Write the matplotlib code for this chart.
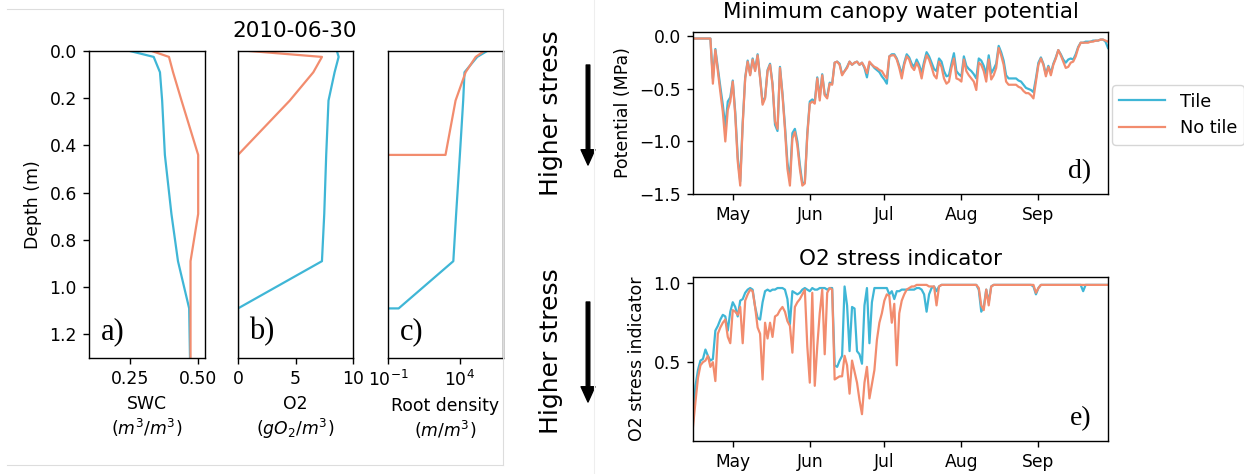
import numpy as np
import pandas as pd
import matplotlib
matplotlib.use("Agg")
import matplotlib.pyplot as plt
import matplotlib.dates as mdates
from matplotlib.lines import Line2D

TILE = "#3fb6d6"
NOTILE = "#f28c6e"

# ---- soil profiles on 2010-06-30 ----
depth = [0.0, 0.025, 0.09, 0.21, 0.44, 0.69, 0.89, 1.09, 1.3]
swc_tile = [0.25, 0.337, 0.36, 0.368, 0.378, 0.402, 0.426, 0.467, 0.47]
swc_notile = [0.33, 0.393, 0.408, 0.439, 0.50, 0.50, 0.472, 0.472, 0.472]
o2_tile = [8.6, 8.75, 8.4, 7.87, 7.67, 7.5, 7.3, 0.0, 0.0]
o2_notile = [1.0, 7.3, 6.55, 4.5, 0.0, 0.0, 0.0, 0.0, 0.0]

root_depth_tile = [0.0, 0.025, 0.09, 0.21, 0.44, 0.69, 0.89, 1.09, 1.09]
root_tile = [7.9e5, 1.6e5, 2.1e4, 1.7e4, 1.0e4, 5.5e3, 3.5e3, 0.55, 1e-3]
root_depth_notile = [0.0, 0.025, 0.09, 0.21, 0.44, 0.44]
root_notile = [4.9e5, 1.26e5, 2.5e4, 5.0e3, 1.0e3, 1e-3]

# ---- daily series, 2010-04-15 .. 2010-09-29 ----
dates = pd.date_range("2010-04-15", "2010-09-29", freq="D")

wp_tile = [
    -0.02, -0.02, -0.02, -0.02, -0.02, -0.02, -0.02, -0.02, -0.40, -0.12,
    -0.30, -0.48, -0.65, -0.86, -0.62, -0.58, -0.42, -0.72, -1.15, -1.38,
    -0.82, -0.39, -0.23, -0.36, -0.21, -0.32, -0.17, -0.39, -0.63, -0.58,
    -0.32, -0.26, -0.45, -0.84, -0.90, -0.29, -0.54, -0.85, -1.20, -1.36,
    -0.92, -0.88, -1.00, -1.22, -1.40, -1.39, -0.92, -0.62, -0.60, -0.62,
    -0.39, -0.58, -0.36, -0.55, -0.57, -0.44, -0.45, -0.25, -0.24, -0.26,
    -0.36, -0.33, -0.29, -0.24, -0.27, -0.25, -0.24, -0.27, -0.25, -0.30,
    -0.39, -0.25, -0.27, -0.30, -0.32, -0.34, -0.38, -0.41, -0.45, -0.19,
    -0.17, -0.17, -0.21, -0.28, -0.36, -0.25, -0.17, -0.20, -0.26, -0.29,
    -0.22, -0.27, -0.35, -0.24, -0.15, -0.19, -0.25, -0.31, -0.33, -0.21,
    -0.24, -0.33, -0.38, -0.37, -0.26, -0.16, -0.33, -0.36, -0.38, -0.19,
    -0.28, -0.31, -0.33, -0.36, -0.40, -0.21, -0.23, -0.28, -0.36, -0.18,
    -0.35, -0.31, -0.26, -0.09, -0.15, -0.23, -0.37, -0.40, -0.40, -0.40,
    -0.40, -0.42, -0.43, -0.46, -0.49, -0.50, -0.51, -0.53, -0.40, -0.25,
    -0.20, -0.26, -0.36, -0.28, -0.35, -0.26, -0.20, -0.13, -0.17, -0.22,
    -0.25, -0.22, -0.21, -0.22, -0.17, -0.10, -0.06, -0.06, -0.05, -0.05,
    -0.05, -0.04, -0.04, -0.04, -0.03, -0.03, -0.05, -0.11,
]
wp_notile = [
    -0.02, -0.02, -0.02, -0.02, -0.02, -0.02, -0.02, -0.02, -0.45, -0.13,
    -0.33, -0.53, -0.72, -1.00, -0.70, -0.62, -0.43, -0.75, -1.19, -1.42,
    -0.84, -0.40, -0.24, -0.37, -0.22, -0.33, -0.18, -0.40, -0.65, -0.59,
    -0.33, -0.27, -0.46, -0.81, -0.88, -0.30, -0.56, -0.88, -1.26, -1.42,
    -0.97, -0.91, -1.04, -1.26, -1.42, -1.40, -0.94, -0.64, -0.62, -0.64,
    -0.40, -0.61, -0.37, -0.56, -0.59, -0.45, -0.46, -0.25, -0.24, -0.27,
    -0.37, -0.33, -0.30, -0.24, -0.27, -0.25, -0.24, -0.27, -0.25, -0.29,
    -0.35, -0.24, -0.27, -0.29, -0.30, -0.32, -0.33, -0.37, -0.40, -0.19,
    -0.18, -0.18, -0.22, -0.30, -0.40, -0.27, -0.19, -0.22, -0.29, -0.32,
    -0.25, -0.30, -0.40, -0.27, -0.18, -0.22, -0.29, -0.37, -0.40, -0.24,
    -0.29, -0.40, -0.45, -0.43, -0.30, -0.21, -0.40, -0.41, -0.43, -0.22,
    -0.33, -0.37, -0.40, -0.43, -0.51, -0.25, -0.27, -0.33, -0.43, -0.22,
    -0.41, -0.37, -0.30, -0.11, -0.18, -0.27, -0.43, -0.46, -0.46, -0.46,
    -0.46, -0.48, -0.49, -0.52, -0.54, -0.54, -0.56, -0.59, -0.43, -0.27,
    -0.21, -0.27, -0.38, -0.29, -0.37, -0.27, -0.21, -0.13, -0.18, -0.24,
    -0.30, -0.29, -0.25, -0.24, -0.19, -0.11, -0.06, -0.06, -0.06, -0.06,
    -0.05, -0.05, -0.04, -0.04, -0.03, -0.03, -0.04, -0.05,
]

o2s_tile = [
    0.13, 0.35, 0.45, 0.51, 0.52, 0.58, 0.54, 0.51, 0.52, 0.70,
    0.73, 0.77, 0.80, 0.79, 0.70, 0.82, 0.88, 0.85, 0.79, 0.89,
    0.90, 0.94, 0.96, 0.97, 0.96, 0.85, 0.78, 0.77, 0.88, 0.95,
    0.96, 0.95, 0.96, 0.96, 0.97, 0.97, 0.97, 0.96, 0.90, 0.74,
    0.95, 0.94, 0.93, 0.94, 0.96, 0.97, 0.96, 0.95, 0.97, 0.96,
    0.96, 0.97, 0.97, 0.97, 0.96, 0.97, 0.97, 0.48, 0.47, 0.51,
    0.54, 0.98, 0.86, 0.57, 0.85, 0.84, 0.57, 0.55, 0.49, 0.86,
    0.97, 0.62, 0.88, 0.97, 0.97, 0.97, 0.97, 0.97, 0.97, 0.93,
    0.95, 0.90, 0.95, 0.95, 0.96, 0.96, 0.96, 0.96, 0.96, 0.96,
    0.97, 0.97, 0.96, 0.93, 0.82, 0.93, 0.97, 0.98, 0.95, 0.98,
    0.99, 0.99, 0.99, 0.99, 0.99, 0.99, 0.99, 0.99, 0.99, 0.99,
    0.99, 0.99, 0.99, 0.99, 0.99, 0.96, 0.82, 0.85, 0.96, 0.88,
    0.98, 0.99, 0.99, 0.99, 0.99, 0.99, 0.99, 0.99, 0.99, 0.99,
    0.99, 0.99, 0.99, 0.99, 0.99, 0.99, 0.99, 0.98, 0.93, 0.97,
    0.99, 0.99, 0.99, 0.99, 0.99, 0.99, 0.99, 0.99, 0.99, 0.99,
    0.99, 0.99, 0.99, 0.99, 0.99, 0.99, 0.99, 0.95, 0.99, 0.99,
    0.99, 0.99, 0.99, 0.99, 0.99, 0.99, 0.99, 0.99,
]
o2s_notile = [
    0.09, 0.25, 0.40, 0.48, 0.50, 0.51, 0.54, 0.47, 0.50, 0.38,
    0.68, 0.72, 0.75, 0.77, 0.66, 0.62, 0.83, 0.82, 0.80, 0.85,
    0.62, 0.89, 0.93, 0.96, 0.95, 0.85, 0.72, 0.68, 0.39, 0.75,
    0.65, 0.75, 0.66, 0.79, 0.80, 0.83, 0.85, 0.82, 0.76, 0.73,
    0.56, 0.85, 0.88, 0.90, 0.93, 0.96, 0.60, 0.37, 0.94, 0.35,
    0.60, 0.81, 0.96, 0.55, 0.94, 0.97, 0.96, 0.39, 0.40, 0.41,
    0.41, 0.54, 0.48, 0.30, 0.51, 0.44, 0.37, 0.26, 0.17, 0.37,
    0.47, 0.27, 0.36, 0.45, 0.64, 0.75, 0.81, 0.89, 0.93, 0.92,
    0.75, 0.87, 0.48, 0.81, 0.89, 0.93, 0.96, 0.97, 0.98, 0.98,
    0.99, 0.99, 0.99, 0.99, 0.99, 0.98, 0.98, 0.98, 0.86, 0.98,
    0.99, 0.99, 0.99, 0.99, 0.99, 0.99, 0.99, 0.99, 0.99, 0.99,
    0.99, 0.99, 0.99, 0.99, 0.99, 0.97, 0.86, 0.83, 0.96, 0.86,
    0.98, 0.99, 0.99, 0.99, 0.99, 0.99, 0.99, 0.99, 0.99, 0.99,
    0.99, 0.99, 0.99, 0.99, 0.99, 0.99, 0.99, 0.99, 0.94, 0.97,
    0.99, 0.99, 0.99, 0.99, 0.99, 0.99, 0.99, 0.99, 0.99, 0.99,
    0.99, 0.99, 0.99, 0.99, 0.99, 0.99, 0.99, 0.99, 0.99, 0.99,
    0.99, 0.99, 0.99, 0.99, 0.99, 0.99, 0.99, 0.99,
]

# everything a bit larger than the matplotlib defaults
plt.rcParams.update({
    "xtick.major.size": 4.4, "ytick.major.size": 4.4,
    "xtick.major.pad": 4.4, "ytick.major.pad": 4.4,
    "xtick.major.width": 1.0, "ytick.major.width": 1.0,
    "axes.linewidth": 1.0, "axes.labelpad": 5.0,
})

W, H = 1244, 474
fig = plt.figure(figsize=(W / 100, H / 100), dpi=100)


def box(x0, y0, x1, y1):
    # pixel box (top-left origin) -> figure fraction rect
    return [x0 / W, 1 - y1 / H, (x1 - x0) / W, (y1 - y0) / H]


LW = 1.6
FS = 12.4
serif = "Liberation Serif"

# ---------- left block: profiles ----------
ax_a = fig.add_axes(box(89, 51, 205, 358))
ax_b = fig.add_axes(box(238, 51, 353, 358))
ax_c = fig.add_axes(box(388, 51, 503, 358))

ax_a.plot(swc_tile, depth, color=TILE, lw=LW)
ax_a.plot(swc_notile, depth, color=NOTILE, lw=LW)
ax_a.set_xlim(0.1, 0.525)
ax_a.set_xticks([0.25, 0.50])
ax_a.set_ylabel("Depth (m)", fontsize=FS)
ax_a.set_xlabel("SWC\n($m^3/m^3$)", fontsize=FS)

ax_b.plot(o2_tile, depth, color=TILE, lw=LW)
ax_b.plot(o2_notile, depth, color=NOTILE, lw=LW)
ax_b.set_xlim(0, 10)
ax_b.set_xticks([0, 5, 10])
ax_b.set_xlabel("O2\n($gO_2/m^3$)", fontsize=FS)

ax_c.plot(root_tile, root_depth_tile, color=TILE, lw=LW)
ax_c.plot(root_notile, root_depth_notile, color=NOTILE, lw=LW)
ax_c.set_xscale("log")
ax_c.set_xlim(0.1, 1e7)
ax_c.set_xticks([1e-1, 1e4])
ax_c.minorticks_off()
ax_c.set_xlabel("Root density\n($m/m^3$)", fontsize=FS)

for ax, lab in zip([ax_a, ax_b, ax_c], ["a)", "b)", "c)"]):
    ax.set_ylim(1.3, 0)
    ax.set_yticks([0.0, 0.2, 0.4, 0.6, 0.8, 1.0, 1.2])
    ax.tick_params(labelsize=FS)
    ax.text(0.1, 0.04, lab, transform=ax.transAxes, fontsize=22,
            family=serif, ha="left", va="bottom")
for ax in [ax_b, ax_c]:
    ax.tick_params(axis="y", left=False, labelleft=False)

fig.text(295 / W, 1 - 31 / H, "2010-06-30", fontsize=15.5, ha="center", va="center")

# thin frame around the profile block
frame = "#dddddd"
fig.add_artist(Line2D([7 / W, 503 / W], [1 - 9 / H, 1 - 9 / H], color=frame, lw=0.8))
fig.add_artist(Line2D([7 / W, 503 / W], [1 - 465 / H, 1 - 465 / H], color=frame, lw=0.8))
fig.add_artist(Line2D([503 / W, 503 / W], [1 - 9 / H, 1 - 465 / H], color=frame, lw=0.8))
fig.add_artist(Line2D([594 / W, 594 / W], [0, 1], color="#eeeeee", lw=0.8))

# ---------- right block: time series ----------
ax_d = fig.add_axes(box(693, 32, 1108, 194))
ax_e = fig.add_axes(box(693, 277, 1108, 441))

ax_d.plot(dates, wp_tile, color=TILE, lw=LW, label="Tile")
ax_d.plot(dates, wp_notile, color=NOTILE, lw=LW, label="No tile")
ax_d.set_ylim(-1.5, 0.042)
ax_d.set_yticks([0.0, -0.5, -1.0, -1.5])
ax_d.set_ylabel("Potential (MPa)", fontsize=12.5)
ax_d.set_title("Minimum canopy water potential", fontsize=15.5, pad=10)

ax_e.plot(dates, o2s_tile, color=TILE, lw=LW)
ax_e.plot(dates, o2s_notile, color=NOTILE, lw=LW)
ax_e.set_ylim(0.0, 1.04)
ax_e.set_yticks([0.5, 1.0])
ax_e.set_ylabel("O2 stress indicator", fontsize=12.5)
ax_e.set_title("O2 stress indicator", fontsize=15.5, pad=8.5)

for ax, lab in zip([ax_d, ax_e], ["d)", "e)"]):
    ax.set_xlim(dates[0], dates[-1])
    ax.xaxis.set_major_locator(mdates.MonthLocator(bymonth=[5, 6, 7, 8, 9]))
    ax.xaxis.set_major_formatter(mdates.DateFormatter("%b"))
    ax.tick_params(labelsize=12.3)
    ax.text(0.96, 0.06, lab, transform=ax.transAxes, fontsize=20,
            family=serif, ha="right", va="bottom")

fig.legend(loc="center", bbox_to_anchor=(1178 / W, 1 - 115 / H), fontsize=12.8,
           handlelength=2.6, frameon=True)

# stress direction annotations
for yc, y0, y1 in [(113, 65, 165), (351, 302, 402)]:
    fig.text(551 / W, 1 - yc / H, "Higher stress", rotation=90, fontsize=18,
             ha="center", va="center")
    ax_d.annotate("", xy=(588 / W, 1 - y1 / H), xytext=(588 / W, 1 - y0 / H),
                  xycoords="figure fraction", textcoords="figure fraction",
                  annotation_clip=False,
                  arrowprops=dict(facecolor="black", edgecolor="black",
                                  width=2.6, headwidth=10, headlength=11,
                                  shrink=0.0))

fig.savefig("out.png", dpi=100)
